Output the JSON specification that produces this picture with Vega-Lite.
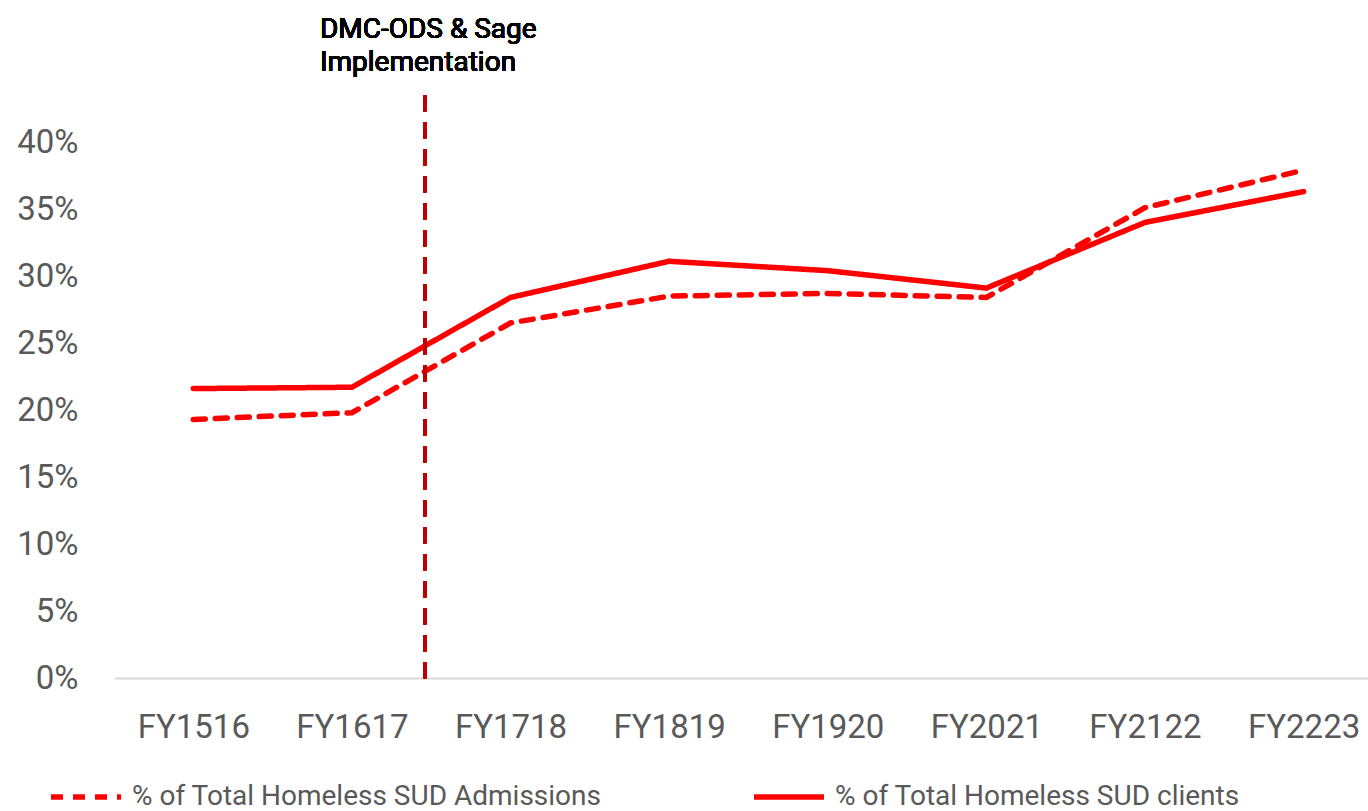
{
  "$schema": "https://vega.github.io/schema/vega-lite/v6.json",
  "autosize": {"type": "none"},
  "width": 1254,
  "height": 678,
  "padding": {"left": 114, "right": 0, "top": 0, "bottom": 133},
  "background": "#ffffff",
  "config": {
    "view": {"stroke": null},
    "font": "Roboto"
  },
  "data": {
    "values": [
      {"year": "FY1516", "idx": 0, "series": "% of Total Homeless SUD Admissions", "value": 0.193},
      {"year": "FY1617", "idx": 1, "series": "% of Total Homeless SUD Admissions", "value": 0.198},
      {"year": "FY1718", "idx": 2, "series": "% of Total Homeless SUD Admissions", "value": 0.265},
      {"year": "FY1819", "idx": 3, "series": "% of Total Homeless SUD Admissions", "value": 0.285},
      {"year": "FY1920", "idx": 4, "series": "% of Total Homeless SUD Admissions", "value": 0.287},
      {"year": "FY2021", "idx": 5, "series": "% of Total Homeless SUD Admissions", "value": 0.284},
      {"year": "FY2122", "idx": 6, "series": "% of Total Homeless SUD Admissions", "value": 0.351},
      {"year": "FY2223", "idx": 7, "series": "% of Total Homeless SUD Admissions", "value": 0.379},
      {"year": "FY1516", "idx": 0, "series": "% of Total Homeless SUD clients", "value": 0.216},
      {"year": "FY1617", "idx": 1, "series": "% of Total Homeless SUD clients", "value": 0.217},
      {"year": "FY1718", "idx": 2, "series": "% of Total Homeless SUD clients", "value": 0.284},
      {"year": "FY1819", "idx": 3, "series": "% of Total Homeless SUD clients", "value": 0.311},
      {"year": "FY1920", "idx": 4, "series": "% of Total Homeless SUD clients", "value": 0.304},
      {"year": "FY2021", "idx": 5, "series": "% of Total Homeless SUD clients", "value": 0.291},
      {"year": "FY2122", "idx": 6, "series": "% of Total Homeless SUD clients", "value": 0.340},
      {"year": "FY2223", "idx": 7, "series": "% of Total Homeless SUD clients", "value": 0.363}
    ]
  },
  "layer": [
    {
      "mark": {"type": "line", "color": "#FF0000", "strokeWidth": 5.5, "strokeCap": "round", "strokeJoin": "miter"},
      "encoding": {
        "x": {
          "field": "idx", "type": "quantitative",
          "scale": {"domain": [-0.5, 7.406], "nice": false, "zero": false},
          "axis": {
            "title": null, "values": [0, 1, 2, 3, 4, 5, 6, 7],
            "labelExpr": "['FY1516','FY1617','FY1718','FY1819','FY1920','FY2021','FY2122','FY2223'][datum.value]",
            "grid": false, "ticks": false, "domain": true, "domainColor": "#D9D9D9", "domainWidth": 2,
            "labelFont": "Roboto", "labelFontSize": 33, "labelColor": "#595959", "labelPadding": 33,
            "labelFlush": false, "labelOverlap": false
          }
        },
        "y": {
          "field": "value", "type": "quantitative",
          "scale": {"domain": [0, 0.506], "nice": false},
          "axis": {
            "title": null, "values": [0, 0.05, 0.1, 0.15, 0.2, 0.25, 0.3, 0.35, 0.4], "format": ".0%",
            "grid": false, "ticks": false, "domain": false,
            "labelFont": "Roboto", "labelFontSize": 33, "labelColor": "#595959", "labelPadding": 36
          }
        },
        "detail": {"field": "series"},
        "strokeDash": {
          "field": "series", "type": "nominal",
          "scale": {"domain": ["% of Total Homeless SUD Admissions", "% of Total Homeless SUD clients"], "range": [[12, 10], [1, 0]]},
          "legend": {
            "title": null, "orient": "none", "direction": "horizontal", "legendX": -66, "legendY": 759,
            "symbolType": "stroke", "symbolSize": 4900, "symbolStrokeWidth": 5.5, "symbolStrokeColor": "#FF0000",
            "labelFont": "Roboto", "labelFontSize": 28, "labelColor": "#595959", "labelLimit": 700, "labelOffset": 8,
            "columnPadding": 141
          }
        }
      }
    },
    {
      "mark": {"type": "rule", "color": "#C00000", "strokeWidth": 3, "strokeDash": [16, 11]},
      "encoding": {
        "x": {"datum": 1.46, "type": "quantitative"},
        "y": {"datum": 0.435, "type": "quantitative"},
        "y2": {"datum": -0.005}
      }
    },
    {
      "mark": {"type": "text", "align": "left", "baseline": "alphabetic", "dx": -105, "font": "Roboto", "fontSize": 28, "color": "#000000", "lineHeight": 33,
        "text": ["DMC-ODS & Sage", "Implementation"]},
      "encoding": {
        "x": {"datum": 1.46, "type": "quantitative"},
        "y": {"datum": 0.478, "type": "quantitative"}
      }
    }
  ]
}
